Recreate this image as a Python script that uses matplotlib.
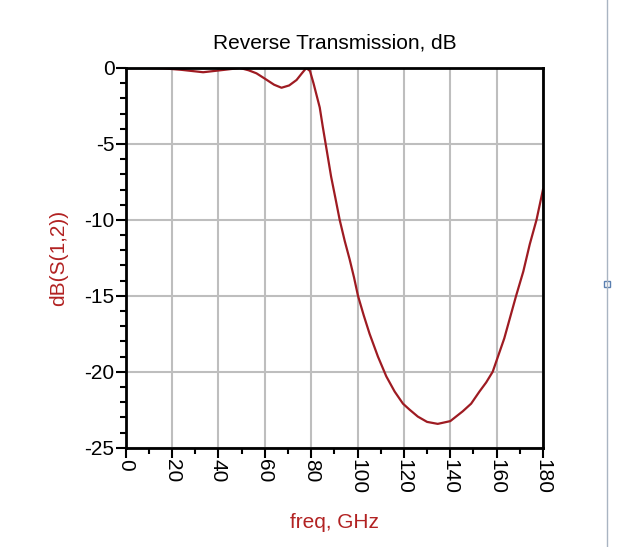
import matplotlib
matplotlib.use("Agg")
import matplotlib.pyplot as plt
from matplotlib.ticker import MultipleLocator
from matplotlib.lines import Line2D
from matplotlib.patches import Rectangle

plt.rcParams['font.family'] = ['Liberation Sans', 'DejaVu Sans']

# values
freq = [0, 8, 16, 24, 33.4, 42, 49.3, 53, 56.4, 60, 64, 67.2, 70.5, 73.7, 76,
        77.9, 79.5, 81, 83.7, 85.0, 86.8, 88.6, 90.5, 92.3, 94.5, 96.6, 98.5,
        100.2, 102.7, 105.2, 108.8, 112.4, 116, 119.6, 122.5, 126, 130, 134.6,
        140, 145.4, 149, 152.6, 155.5, 158.3, 163.3, 168.4, 171.5, 174.3,
        177.2, 180]
s12_db = [0, 0, -0.02, -0.12, -0.28, -0.13, 0, -0.15, -0.35, -0.7, -1.1, -1.3,
          -1.15, -0.79, -0.35, 0, -0.2, -1.0, -2.6, -3.86, -5.5, -7.15, -8.6,
          -10.0, -11.4, -12.6, -13.8, -15.0, -16.3, -17.5, -19.0, -20.3, -21.3,
          -22.1, -22.5, -22.95, -23.3, -23.43, -23.25, -22.6, -22.1, -21.3,
          -20.7, -20.0, -17.8, -15.0, -13.4, -11.6, -10.0, -8.0]

xticks = [0, 20, 40, 60, 80, 100, 120, 140, 160, 180]
yticks = [0, -5, -10, -15, -20, -25]

fig = plt.figure(figsize=(6.26, 5.47), dpi=100)
ax = fig.add_axes([0.2008, 0.1815, 0.6666, 0.6942])

ax.plot(freq, s12_db, color='#9E1B22', linewidth=1.6)

ax.set_xlim(0, 180)
ax.set_ylim(-25, 0)
ax.set_xticks(xticks)
ax.set_yticks(yticks)
ax.set_xticklabels([str(t) for t in xticks], rotation=-90)
ax.set_yticklabels([str(t) for t in yticks])
ax.xaxis.set_minor_locator(MultipleLocator(10))
ax.yaxis.set_minor_locator(MultipleLocator(1))
ax.tick_params(which='major', direction='out', length=7, width=1.5,
               labelsize=15, colors='black', pad=1)
ax.tick_params(which='minor', direction='out', length=4, width=1.5)
ax.grid(True, which='major', color='#BEBEBE', linewidth=1.5)
ax.set_axisbelow(True)
for sp in ax.spines.values():
    sp.set_linewidth(2)
    sp.set_color('black')

ax.set_title('Reverse Transmission, dB', fontsize=15, pad=14)
ax.set_xlabel('freq, GHz', fontsize=15, color='#B22222', labelpad=14)
ax.set_ylabel('dB(S(1,2))', fontsize=15, color='#B22222', labelpad=12)

# window border on the right of the screenshot
fig.add_artist(Line2D([607 / 626, 607 / 626], [0, 1], color='#A9B4C2',
                      linewidth=1, transform=fig.transFigure))
fig.add_artist(Rectangle((604 / 626, 1 - 287 / 547), 6 / 626, 6 / 547,
                         facecolor='white', edgecolor='#5A7FB0', linewidth=1,
                         transform=fig.transFigure))

fig.savefig('out.png', dpi=100)
